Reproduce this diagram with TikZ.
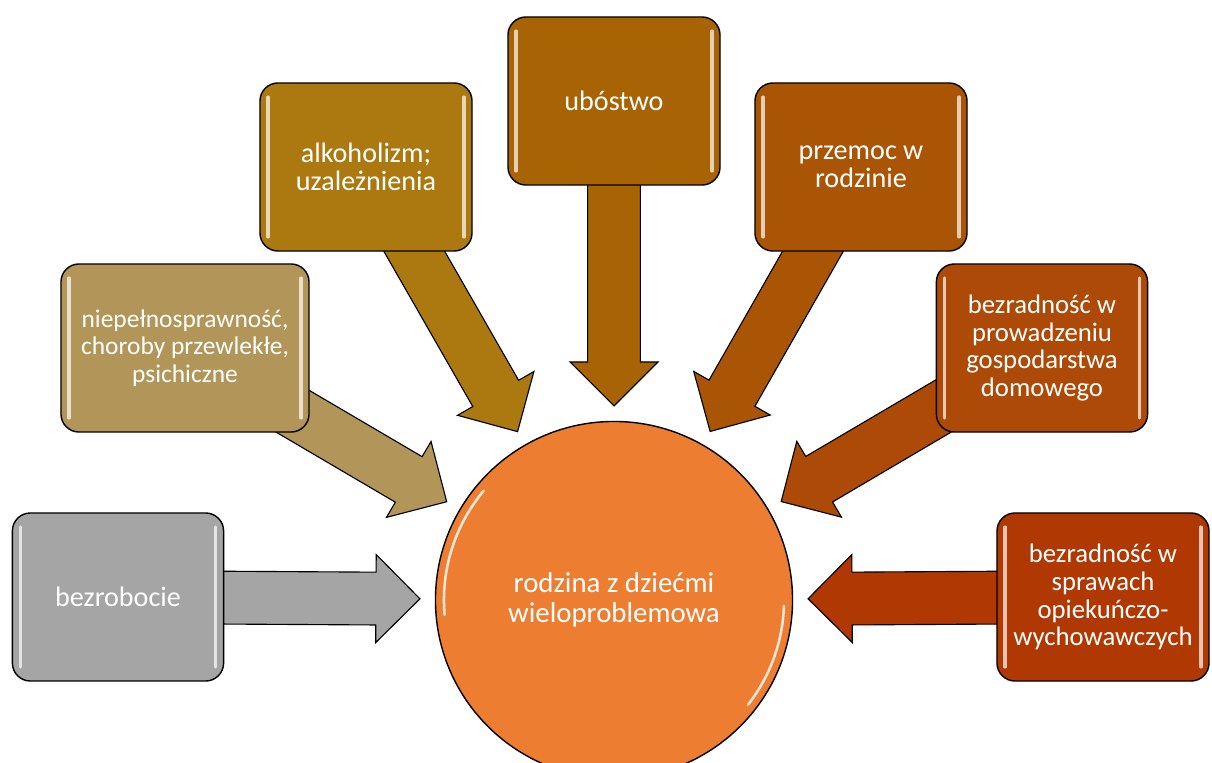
\documentclass[tikz,border=0pt]{standalone}
\usepackage{fontspec}
\setmainfont{Carlito}
\usetikzlibrary{calc,backgrounds}
\definecolor{slate}{RGB}{165,165,165}
\definecolor{sand}{RGB}{178,149,88}
\definecolor{gold}{RGB}{171,121,16}
\definecolor{amber}{RGB}{168,99,4}
\definecolor{rust}{RGB}{170,85,6}
\definecolor{copper}{RGB}{174,74,8}
\definecolor{sienna}{RGB}{176,56,2}
\definecolor{tangerine}{RGB}{237,125,49}
\tikzset{
  cause/.style={draw=black,line width=1pt,fill=#1,rounded corners=0.45cm,text=white,
    align=center,minimum width=5.3cm,minimum height=4.2cm,inner sep=2pt,
    font=\fontsize{20pt}{20pt}\selectfont,
    path picture={
      \draw[#1!30!white,line width=2.2pt,line cap=round]
        ($(path picture bounding box.north west)+(0.2cm,-0.35cm)$) --
        ($(path picture bounding box.south west)+(0.2cm,0.35cm)$)
        ($(path picture bounding box.north east)+(-0.2cm,-0.35cm)$) --
        ($(path picture bounding box.south east)+(-0.2cm,0.35cm)$);
    }},
  cause/.default=slate,
  hub/.style={circle,draw=black,line width=1pt,fill=tangerine,text=white,align=center,
    minimum size=8.925cm,font=\fontsize{20.5pt}{21.5pt}\selectfont},
  flow/.style={draw=black,line width=0.8pt,fill=#1,line join=miter},
  flow/.default=slate,
}
% block arrow from a box towards the hub
\newcommand{\blockarrow}[3]{%
  \coordinate (tip) at ($(#2.center)!4.85cm!(#1.center)$);
  \coordinate (hb) at ($(tip)!1.1cm!(#1.center)$);
  \draw[flow=#3] ($(#1.center)!0.66cm!90:(hb)$) -- ($(hb)!0.66cm!-90:(#1.center)$)
    -- ($(hb)!1.1cm!-90:(#1.center)$) -- (tip) -- ($(hb)!1.1cm!90:(#1.center)$)
    -- ($(hb)!0.66cm!90:(#1.center)$) -- ($(#1.center)!0.66cm!-90:(hb)$) -- cycle;
}

\begin{document}
\begin{tikzpicture}[x=0.025cm,y=-0.025cm]
  \useasboundingbox (0,0) rectangle (1212,763);

  \node[hub] (hub) at (614,600) {rodzina z dziećmi\\wieloproblemowa};
  \draw[tangerine!20!white,line width=1.8pt,line cap=round]
    ($(hub.center)+(140:4.25cm)$) arc[start angle=140,end angle=185,radius=4.25cm];
  \draw[tangerine!20!white,line width=1.8pt,line cap=round]
    ($(hub.center)+(-2:4.25cm)$) arc[start angle=-2,end angle=-38,radius=4.25cm];

  \node[cause=slate,minimum width=5.28cm] (bezrobocie) at (118,597) {bezrobocie};
  \node[cause=sand,minimum width=6.2cm,font=\fontsize{18.1pt}{19.5pt}\selectfont] (zdrowie) at (185,348)
    {niepełnosprawność,\\choroby przewlekłe,\\psichiczne};
  \node[cause=gold] (alkohol) at (366,167) {alkoholizm;\\uzależnienia};
  \node[cause=amber] (ubostwo) at (614,101) {ubóstwo};
  \node[cause=rust] (przemoc) at (861,167) {przemoc w\\rodzinie};
  \node[cause=copper,minimum width=5.28cm,font=\fontsize{19pt}{19.8pt}\selectfont] (dom) at (1042,348)
    {bezradność w\\prowadzeniu\\gospodarstwa\\domowego};
  \node[cause=sienna,font=\fontsize{19pt}{19.8pt}\selectfont] (opieka) at (1103,597)
    {bezradność w\\sprawach\\opiekuńczo-\\wychowawczych};

  \begin{scope}[on background layer]
    \foreach \n/\c in {bezrobocie/slate,zdrowie/sand,alkohol/gold,ubostwo/amber,
        przemoc/rust,dom/copper,opieka/sienna}
      \blockarrow{\n}{hub}{\c};
  \end{scope}
\end{tikzpicture}
\end{document}
